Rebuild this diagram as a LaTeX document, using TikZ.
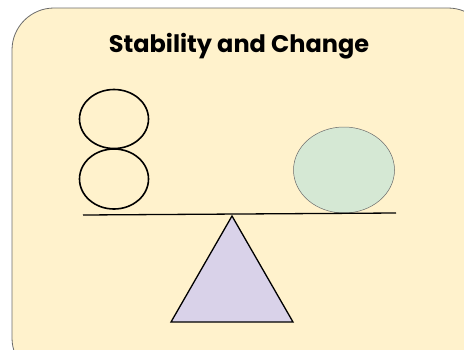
\documentclass[tikz,border=0pt]{standalone}
\usepackage{fontspec}
\setmainfont{Poppins}
\usepackage{xcolor}
\usetikzlibrary{shapes.geometric}
\definecolor{cream}{HTML}{FFF2CC}
\definecolor{sage}{HTML}{D5E8D4}
\definecolor{lilac}{HTML}{D9D2E9}
\definecolor{frame}{HTML}{6B6B6B}

\begin{document}
\begin{tikzpicture}[x=1pt,y=-1pt,
  ball/.style={ellipse,draw=black,line width=1.6pt,inner sep=0pt},
  beam/.style={draw=black,line width=1.3pt},
  title/.style={font=\fontsize{24}{28}\selectfont\bfseries}]
\useasboundingbox (0,0) rectangle (464,349);
\clip (0,0) rectangle (464,349);
\draw[frame,fill=cream,line width=0.8pt,rounded corners=42pt] (12,8) rectangle (490,380);
\node[title] (head) at (239,46) {Stability and Change};
\node[ball,minimum width=69pt,minimum height=59pt] (b1) at (114,119) {};
\node[ball,minimum width=69pt,minimum height=60pt] (b2) at (114,179) {};
\node[ellipse,draw=frame,fill=sage,line width=0.5pt,minimum width=101pt,minimum height=86pt] (g) at (344,170) {};
\coordinate (l) at (83,215);
\coordinate (r) at (396,213);
\draw[beam] (l) -- (r);
\coordinate (top) at (232,216);
\coordinate (bl) at (171,322);
\coordinate (br) at (293,322);
\draw[beam,fill=lilac,line join=miter] (top) -- (bl) -- (br) -- cycle;
\end{tikzpicture}
\end{document}
